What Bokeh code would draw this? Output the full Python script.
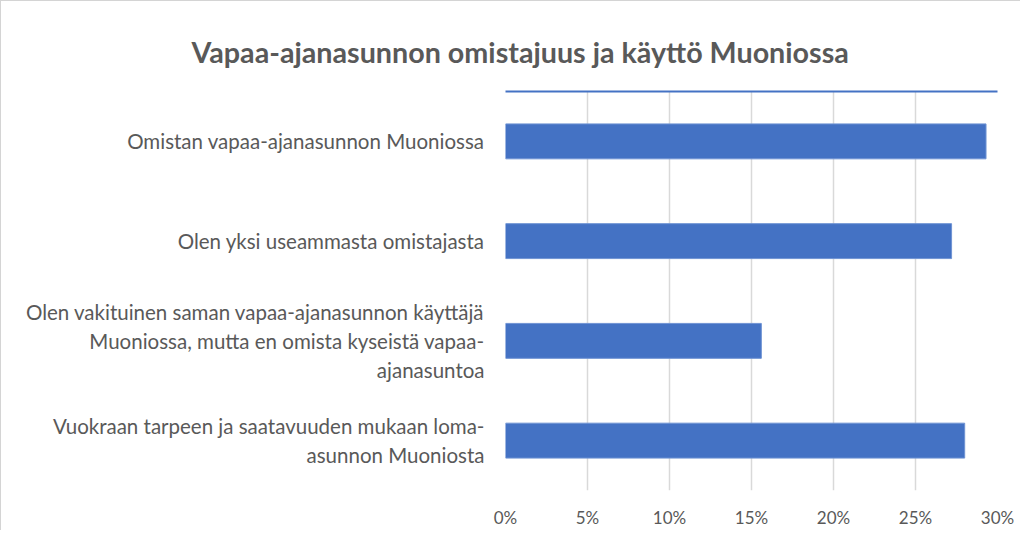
from bokeh.plotting import figure
from bokeh.models import ColumnDataSource, FactorRange, Range1d, NumeralTickFormatter, FixedTicker, LinearAxis
from bokeh.embed import file_html
from bokeh.resources import INLINE

title_text = "Vapaa-ajanasunnon omistajuus ja käyttö Muoniossa"
categories = [
    "Omistan vapaa-ajanasunnon Muoniossa",
    "Olen yksi useammasta omistajasta",
    "Olen vakituinen saman vapaa-ajanasunnon käyttäjä\nMuoniossa, mutta en omista kyseistä vapaa-\najanasuntoa",
    "Vuokraan tarpeen ja saatavuuden mukaan loma-\nasunnon Muoniosta",
]
values = [0.293, 0.272, 0.156, 0.280]
x_ticks = [0.0, 0.05, 0.10, 0.15, 0.20, 0.25, 0.30]

FONT = "Lato"
GRAY = "#595959"
BLUE = "#4472c4"

source = ColumnDataSource(data=dict(cat=categories, val=values))

p = figure(
    width=1020, height=530,
    y_range=FactorRange(factors=list(reversed(categories)), range_padding=0),
    x_range=Range1d(0, 0.30),
    output_backend="svg", toolbar_location=None, tools="",
    min_border_left=504, min_border_right=24, min_border_top=90, min_border_bottom=41,
)
p.styles = {"border-left": "1px solid #d4d4d4", "border-top": "1px solid #d4d4d4"}

p.hbar(y="cat", right="val", left=0, height=0.35, source=source,
       fill_color=BLUE, line_color="#6f93d3", line_width=1)

p.title.text = title_text
p.title.align = "left"
p.title.offset = -314
p.title.standoff = 46
p.title.text_font = FONT
p.title.text_font_style = "bold"
p.title.text_font_size = "28.7px"
p.title.text_color = GRAY

p.outline_line_color = None
p.ygrid.grid_line_color = None
p.xgrid.grid_line_color = "#d9d9d9"
p.xgrid.grid_line_width = 1.5
p.xgrid.ticker = FixedTicker(ticks=x_ticks)

xa = p.xaxis[0]
xa.ticker = FixedTicker(ticks=x_ticks)
xa.formatter = NumeralTickFormatter(format="0%")
xa.axis_line_color = None
xa.major_tick_line_color = None
xa.minor_tick_line_color = None
xa.major_tick_out = 0
xa.major_label_text_font = FONT
xa.major_label_text_font_size = "17px"
xa.major_label_text_color = GRAY
xa.major_label_standoff = 16

ya = p.yaxis[0]
ya.axis_line_color = None
ya.major_tick_line_color = None
ya.minor_tick_line_color = None
ya.major_tick_out = 0
ya.major_label_text_font = FONT
ya.major_label_text_font_size = "20.5px"
ya.major_label_text_color = GRAY
ya.major_label_standoff = 21

top_axis = LinearAxis(
    ticker=FixedTicker(ticks=x_ticks),
    major_label_text_font_size="0px",
    major_tick_line_color=None, minor_tick_line_color=None,
    major_tick_out=0,
    axis_line_color=BLUE, axis_line_width=2,
    major_label_standoff=0,
)
p.add_layout(top_axis, "above")

open("out.html", "w").write(file_html(p, INLINE))
